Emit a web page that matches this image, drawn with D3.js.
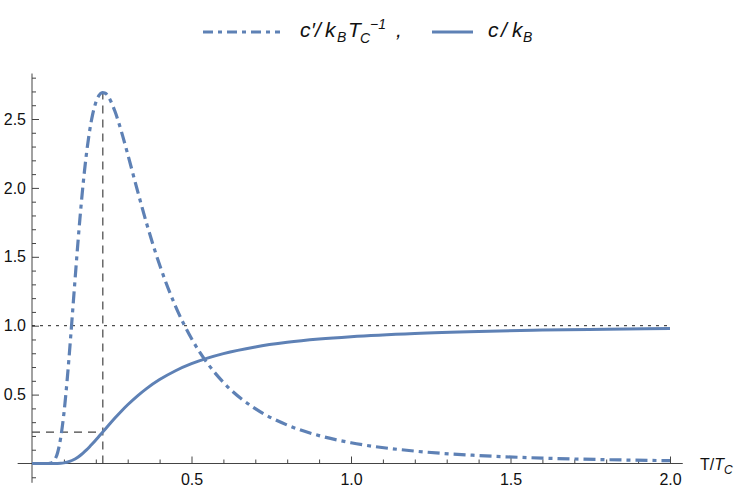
<!DOCTYPE html>
<html>
<head>
<meta charset="utf-8">
<script src="https://cdn.jsdelivr.net/npm/d3@7"></script>
<style>
  html, body { margin: 0; padding: 0; background: #fff; }
  svg { display: block; font-family: "Liberation Sans", Arial, sans-serif; }
</style>
</head>
<body>
<svg id="chart" width="741" height="491"></svg>
<script>
// ---- data ----
const tValues = [0, 0.03, 0.05, 0.06, 0.07, 0.08, 0.09, 0.10, 0.11, 0.12, 0.13, 0.14, 0.15, 0.16, 0.17, 0.18, 0.19, 0.20, 0.21, 0.22, 0.23, 0.24, 0.26, 0.28, 0.30, 0.33, 0.36, 0.40, 0.45, 0.50, 0.55, 0.60, 0.70, 0.80, 0.90, 1.0, 1.2, 1.4, 1.6, 1.8, 2.0];
const cValues = [0, 0, 0.000001, 0.000016, 0.000128, 0.000582, 0.001845, 0.00454, 0.00932, 0.01671, 0.02703, 0.04039, 0.05670, 0.07570, 0.09701, 0.12025, 0.14496, 0.17074, 0.19723, 0.22405, 0.25099, 0.27771, 0.32996, 0.37967, 0.42625, 0.48970, 0.54546, 0.60889, 0.67315, 0.72406, 0.76469, 0.79745, 0.84594, 0.87937, 0.90317, 0.92067, 0.94409, 0.95855, 0.96807, 0.97467, 0.97942];
const cPrimeValues = [0, 0, 0.0003, 0.0039, 0.0224, 0.0764, 0.1868, 0.3632, 0.6006, 0.8823, 1.1849, 1.4871, 1.7706, 2.0223, 2.2343, 2.4041, 2.5315, 2.6190, 2.6711, 2.6917, 2.6864, 2.6590, 2.5561, 2.4110, 2.2449, 1.9853, 1.7365, 1.4417, 1.1405, 0.9066, 0.7269, 0.5887, 0.3977, 0.2791, 0.2024, 0.1509, 0.0900, 0.0577, 0.0391, 0.0277, 0.0203];

const peakT = 0.222;      // position of the maximum of c'
const peakCPrime = 2.69;  // value of c' at the maximum
const peakC = 0.228;      // value of c at that temperature
const referenceLevel = 1.0;

const xMajorTicks = [0.5, 1.0, 1.5, 2.0];
const xMinorTicks = [0.1, 0.2, 0.3, 0.4, 0.6, 0.7, 0.8, 0.9, 1.1, 1.2, 1.3, 1.4, 1.6, 1.7, 1.8, 1.9];
const yMajorTicks = [0.5, 1.0, 1.5, 2.0, 2.5];
const yMinorTicks = [-0.1, 0.1, 0.2, 0.3, 0.4, 0.6, 0.7, 0.8, 0.9, 1.1, 1.2, 1.3, 1.4, 1.6, 1.7, 1.8, 1.9, 2.1, 2.2, 2.3, 2.4, 2.6, 2.7, 2.8];
const xAxisExtent = [-0.045, 2.04];
const yAxisExtent = [-0.14, 2.83];

// ---- layout ----
const svg = d3.select("#chart");
const blue = "#5E81B5";
const axisColor = "#444";
const FONT = '"Liberation Sans", Arial, sans-serif';

const x = d3.scaleLinear().domain([0, 2]).range([32, 670]);
const y = d3.scaleLinear().domain([0, 2.5]).range([463.5, 119]);

const pts = tValues.map((t, i) => ({ t, c: cValues[i], cp: cPrimeValues[i] }));

// axis lines
svg.append("line")
  .attr("x1", x(xAxisExtent[0])).attr("x2", x(xAxisExtent[1]))
  .attr("y1", y(0)).attr("y2", y(0))
  .attr("stroke", axisColor).attr("stroke-width", 1);
svg.append("line")
  .attr("x1", x(0)).attr("x2", x(0))
  .attr("y1", y(yAxisExtent[0])).attr("y2", y(yAxisExtent[1]))
  .attr("stroke", axisColor).attr("stroke-width", 1);

function styleAxis(g) {
  g.attr("font-family", FONT);
  g.select(".domain").remove();
  g.selectAll(".tick line").attr("stroke", axisColor);
  g.selectAll(".tick text").attr("fill", "#111").style("font-size", "16px")
    .style("font-family", FONT);
}

// x axis ticks (inward / upward)
svg.append("g").attr("transform", `translate(0,${y(0)})`)
  .call(d3.axisBottom(x).tickValues(xMinorTicks).tickSize(-4).tickFormat(""))
  .call(styleAxis);
svg.append("g").attr("transform", `translate(0,${y(0)})`)
  .call(d3.axisBottom(x).tickValues(xMajorTicks).tickSize(-7).tickPadding(10).tickFormat(d3.format(".1f")))
  .call(styleAxis);

// y axis ticks (inward / rightward)
svg.append("g").attr("transform", `translate(${x(0)},0)`)
  .call(d3.axisLeft(y).tickValues(yMinorTicks).tickSize(-4).tickFormat(""))
  .call(styleAxis);
svg.append("g").attr("transform", `translate(${x(0)},0)`)
  .call(d3.axisLeft(y).tickValues(yMajorTicks).tickSize(-7).tickPadding(6).tickFormat(d3.format(".1f")))
  .call(styleAxis);

// guide lines
svg.append("line")
  .attr("x1", x(0)).attr("x2", x(2))
  .attr("y1", y(referenceLevel)).attr("y2", y(referenceLevel))
  .attr("stroke", "#222").attr("stroke-width", 1).attr("stroke-dasharray", "3,5");
svg.append("line")
  .attr("x1", x(peakT)).attr("x2", x(peakT))
  .attr("y1", y(0)).attr("y2", y(peakCPrime))
  .attr("stroke", "#444").attr("stroke-width", 1.2).attr("stroke-dasharray", "8,6");
svg.append("line")
  .attr("x1", x(0)).attr("x2", x(peakT))
  .attr("y1", y(peakC)).attr("y2", y(peakC))
  .attr("stroke", "#444").attr("stroke-width", 1.2).attr("stroke-dasharray", "8,6");

// curves
const lineC = d3.line().x(d => x(d.t)).y(d => y(d.c)).curve(d3.curveMonotoneX);
const lineCP = d3.line().x(d => x(d.t)).y(d => y(d.cp)).curve(d3.curveMonotoneX);

svg.append("path").datum(pts).attr("d", lineCP)
  .attr("fill", "none").attr("stroke", blue).attr("stroke-width", 3.2)
  .attr("stroke-dasharray", "12,5,4,5");
svg.append("path").datum(pts).attr("d", lineC)
  .attr("fill", "none").attr("stroke", blue).attr("stroke-width", 3);

// x axis label T/T_C
const xl = svg.append("text").attr("x", 700).attr("y", 470)
  .style("font-size", "16px").style("font-family", FONT).attr("fill", "#111");
xl.append("tspan").text("T/");
xl.append("tspan").style("font-style", "italic").text("T");
xl.append("tspan").style("font-style", "italic").style("font-size", "12px").attr("dy", 4).text("C");

// legend
const legendY = 32;
function legendText(str, px, py, size, italic = true) {
  svg.append("text").attr("x", px).attr("y", py)
    .style("font-size", size + "px").style("font-family", FONT)
    .style("font-style", italic ? "italic" : "normal")
    .attr("fill", "#111").text(str);
}
svg.append("line").attr("x1", 203).attr("x2", 280).attr("y1", legendY).attr("y2", legendY)
  .attr("stroke", blue).attr("stroke-width", 3.2).attr("stroke-dasharray", "10,5,4,5");
legendText("c", 300, 37, 21);
legendText("′", 311, 37, 21);
legendText("/", 315, 37, 21);
legendText("k", 325, 37, 21);
legendText("B", 337, 42, 14);
legendText("T", 348, 37, 21);
legendText("C", 360, 43, 14);
legendText("−1", 370, 29, 14);
legendText(",", 396, 37, 21);

svg.append("line").attr("x1", 432).attr("x2", 473).attr("y1", legendY).attr("y2", legendY)
  .attr("stroke", blue).attr("stroke-width", 3);
legendText("c", 488, 37, 21);
legendText("/", 501, 37, 21);
legendText("k", 512, 37, 21);
legendText("B", 523, 42, 14);
</script>
</body>
</html>
